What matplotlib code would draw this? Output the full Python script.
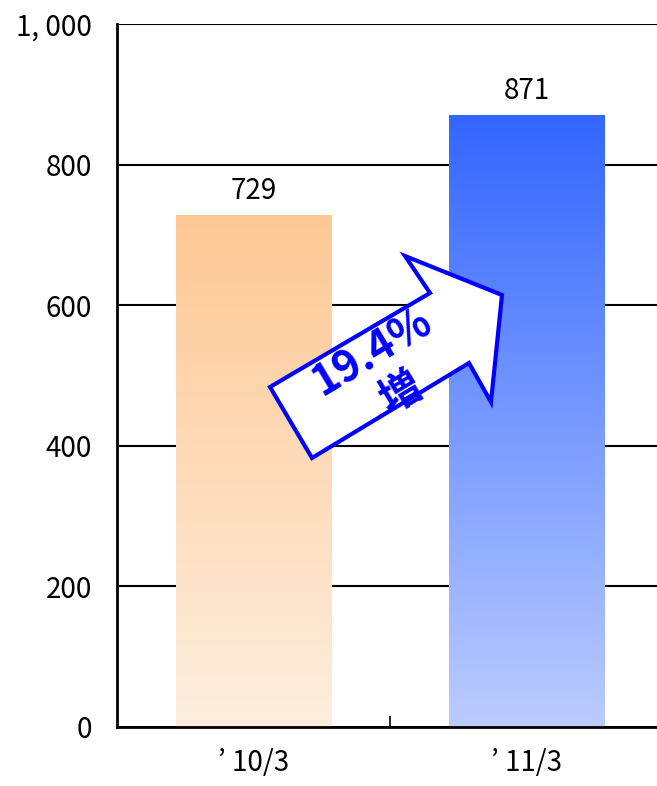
import matplotlib.pyplot as plt
import numpy as np
from matplotlib.colors import LinearSegmentedColormap
from matplotlib.patches import Polygon

plt.rcParams['font.family'] = ['Noto Sans CJK JP', 'DejaVu Sans']

# データ
categories = ['’ 10/3', '’ 11/3']
values = [729, 871]
top_colors = ['#FDC894', '#3366FF']
bottom_colors = ['#FEEEDE', '#BBCCFF']
y_ticks = [0, 200, 400, 600, 800, 1000]
y_tick_labels = ['0', '200', '400', '600', '800', '1, 000']
growth_pct = '19.4%'
growth_word = '増'

W, H = 657, 786
fig = plt.figure(figsize=(W / 100, H / 100), dpi=100)
ax = fig.add_axes([117 / W, 59 / H, 546 / W, 703 / H])

x = np.arange(len(categories))
bars = ax.bar(x, values, width=0.57, zorder=2)

# グラデーション（各棒の上→下）
grad = np.linspace(0, 1, 256).reshape(-1, 1)
for bar, c_top, c_bot in zip(bars, top_colors, bottom_colors):
    cmap = LinearSegmentedColormap.from_list('g', [c_bot, c_top])
    bx, by = bar.get_x(), bar.get_y()
    bw, bh = bar.get_width(), bar.get_height()
    im = ax.imshow(grad, cmap=cmap, aspect='auto', origin='lower',
                   extent=[bx, bx + bw, by, by + bh], zorder=2)
    im.set_clip_path(bar)
    bar.set_facecolor('none')
    bar.set_edgecolor('none')

# 数値ラベル
for xi, v in zip(x, values):
    ax.annotate(str(v), (xi, v), xytext=(0, 6), textcoords='offset points',
                ha='center', va='bottom', fontsize=20)

ax.set_xlim(-0.5, 1.5)
ax.set_ylim(0, 1000)
ax.set_yticks(y_ticks)
ax.set_yticklabels(y_tick_labels, fontsize=20)
ax.tick_params(axis='y', length=0, pad=18)

ax.set_xticks([0.5])
ax.set_xticklabels([''])
ax.tick_params(axis='x', which='major', direction='in', length=8, width=1.2)
ax.set_xticks(x, minor=True)
ax.set_xticklabels(categories, minor=True, fontsize=20)
ax.tick_params(axis='x', which='minor', length=0, pad=15)

ax.yaxis.grid(True, color='black', linewidth=1.5, zorder=1)
ax.set_axisbelow(True)
for s in ['top', 'right']:
    ax.spines[s].set_visible(False)
for s in ['left', 'bottom']:
    ax.spines[s].set_linewidth(2)
    ax.spines[s].set_zorder(3)

# 増加の矢印（図のピクセル座標で指定）
arrow_px = [(270, 387), (430, 293), (405, 256), (502, 295),
            (491, 402), (469, 363), (312, 458)]
arrow_pts = [(px / W, 1 - py / H) for px, py in arrow_px]
arrow = Polygon(arrow_pts, closed=True, facecolor='white', edgecolor='#0000FF',
                linewidth=3, transform=fig.transFigure, zorder=5)
fig.patches.append(arrow)

fig.text(372 / W, 1 - 352 / H, growth_pct, ha='center', va='center',
         rotation=31, rotation_mode='anchor', color='#0000FF',
         fontsize=31, fontweight='bold', zorder=6)
fig.text(401 / W, 1 - 394 / H, growth_word, ha='center', va='center',
         rotation=31, rotation_mode='anchor', color='#0000FF',
         fontsize=30, fontweight='bold', zorder=6)

plt.savefig('out.png', dpi=100)
